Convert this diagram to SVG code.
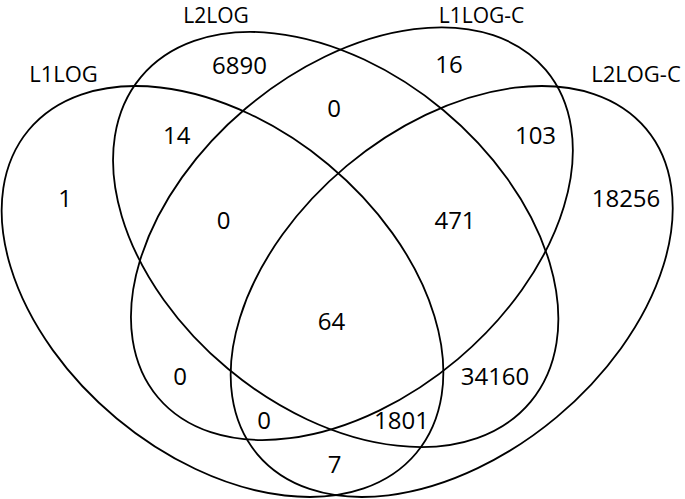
<svg xmlns="http://www.w3.org/2000/svg" width="685" height="499" viewBox="0 0 685 499">
<style>
.set{fill:none;stroke:#000;stroke-width:1.8}
.lbl{font-family:"Open Sans","Liberation Sans",sans-serif;font-size:22px;fill:#000;text-anchor:middle}
.top{font-size:21px}
.num{font-family:"Open Sans","Liberation Sans",sans-serif;font-size:24px;fill:#000;text-anchor:middle}
</style>
<rect width="685" height="499" fill="#fff"/>
<g id="set-L1LOG">
<ellipse class="set" cx="222.5" cy="291.5" rx="252.3" ry="165.3" transform="rotate(39.8 222.5 291.5)"/>
<text class="lbl" x="63.5" y="82">L1LOG</text>
</g>
<g id="set-L2LOG">
<ellipse class="set" cx="335.7" cy="239.5" rx="253.6" ry="168.3" transform="rotate(39.8 335.7 239.5)"/>
<text class="lbl top" x="216" y="23">L2LOG</text>
</g>
<g id="set-L1LOG-C">
<ellipse class="set" cx="351.9" cy="233.7" rx="253.8" ry="164.2" transform="rotate(-40.2 351.9 233.7)"/>
<text class="lbl top" x="481.5" y="23">L1LOG-C</text>
</g>
<g id="set-L2LOG-C">
<ellipse class="set" cx="451.7" cy="291.5" rx="253.5" ry="163.7" transform="rotate(-39.9 451.7 291.5)"/>
<text class="lbl" x="636" y="82">L2LOG-C</text>
</g>
<g id="counts">
<text class="num" x="239.5" y="74">6890</text>
<text class="num" x="334" y="117">0</text>
<text class="num" x="449" y="73">16</text>
<text class="num" x="176.7" y="144">14</text>
<text class="num" x="535.5" y="144">103</text>
<text class="num" x="65" y="207">1</text>
<text class="num" x="626" y="207">18256</text>
<text class="num" x="223.5" y="229">0</text>
<text class="num" x="455" y="229">471</text>
<text class="num" x="331.5" y="330">64</text>
<text class="num" x="180" y="385">0</text>
<text class="num" x="495" y="385">34160</text>
<text class="num" x="264" y="429">0</text>
<text class="num" x="401.5" y="429">1801</text>
<text class="num" x="334.5" y="473">7</text>
</g>
</svg>
